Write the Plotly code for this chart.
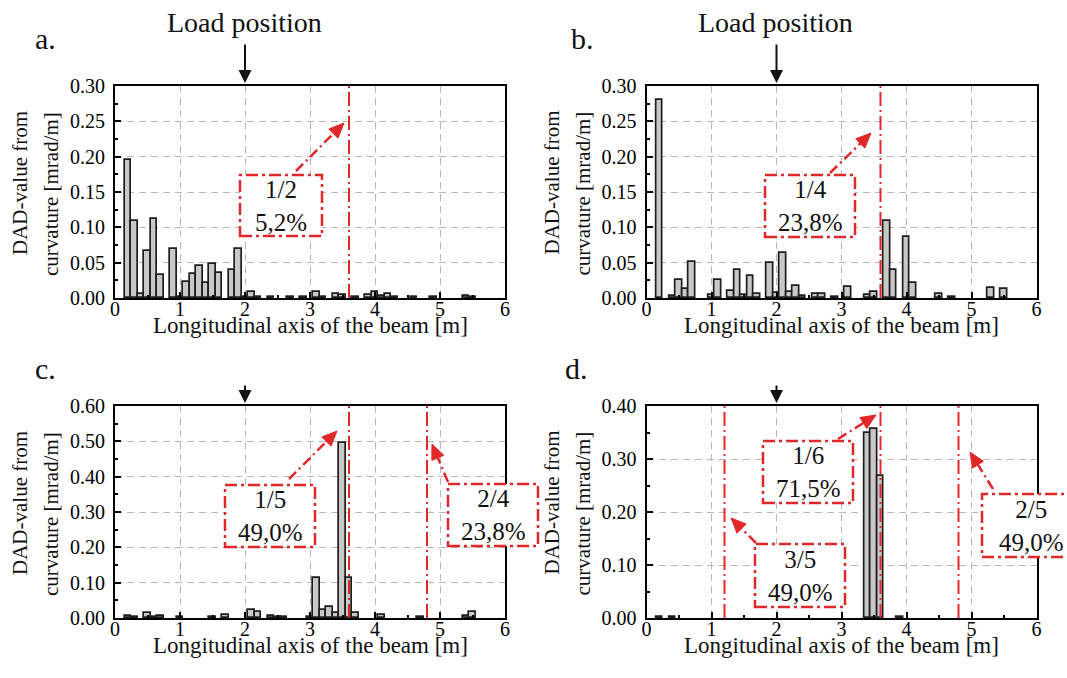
import math
import plotly.graph_objects as go

W, H = 1067, 678
FONT = "Liberation Serif"
RED = "#e0282a"

# ---------------- data ----------------
a_x = [0.2, 0.3, 0.4, 0.5, 0.6, 0.7, 0.9, 1.0, 1.1, 1.2, 1.3, 1.4, 1.5, 1.6, 1.8, 1.9, 2.0, 2.1, 2.2, 2.4,
       2.7, 2.9, 3.1, 3.2, 3.4, 3.5, 3.7, 3.9, 4.0, 4.1, 4.2, 4.3, 4.6, 4.9, 5.4, 5.5]
a_y = [0.195, 0.109, 0.005, 0.067, 0.112, 0.032, 0.069, 0.002, 0.023, 0.034, 0.045, 0.021, 0.048, 0.035, 0.039,
       0.069, 0.002, 0.009, 0.002, 0.001, 0.001, 0.001, 0.008, 0.002, 0.006, 0.004, 0.001, 0.004, 0.009, 0.003,
       0.005, 0.002, 0.001, 0.001, 0.003, 0.001]

b_x = [0.2, 0.4, 0.5, 0.6, 0.7, 1.0, 1.1, 1.3, 1.4, 1.5, 1.6, 1.7, 1.9, 2.0, 2.1, 2.2, 2.3, 2.4, 2.6, 2.7,
       2.9, 3.1, 3.4, 3.5, 3.7, 3.8, 4.0, 4.1, 4.5, 4.7, 5.3, 5.5]
b_y = [0.280, 0.003, 0.025, 0.013, 0.051, 0.004, 0.025, 0.010, 0.039, 0.004, 0.031, 0.006, 0.049, 0.007, 0.063,
       0.008, 0.017, 0.003, 0.005, 0.005, 0.002, 0.016, 0.004, 0.008, 0.109, 0.040, 0.086, 0.021, 0.005, 0.002,
       0.014, 0.013]

c_x = [0.2, 0.3, 0.5, 0.6, 0.7, 1.0, 1.5, 1.7, 2.1, 2.2, 2.4, 2.5, 2.6, 3.0, 3.1, 3.2, 3.3, 3.4, 3.5, 3.6,
       3.7, 4.1, 4.7, 5.4, 5.5]
c_y = [0.007, 0.004, 0.015, 0.004, 0.005, 0.002, 0.002, 0.009, 0.022, 0.017, 0.005, 0.003, 0.003, 0.002, 0.112,
       0.024, 0.031, 0.013, 0.495, 0.113, 0.014, 0.009, 0.002, 0.006, 0.016]

d_x = [0.2, 0.4, 3.4, 3.5, 3.6, 3.9]
d_y = [0.002, 0.002, 0.350, 0.357, 0.268, 0.001]

red_a = [3.6]
red_b = [3.6]
red_c = [3.6, 4.8]
red_d = [1.2, 3.6, 4.8]

load_x = 2.0

x_ticks = [0, 1, 2, 3, 4, 5, 6]
y_ticks_ab = [0.00, 0.05, 0.10, 0.15, 0.20, 0.25, 0.30]
y_ticks_c = [0.00, 0.10, 0.20, 0.30, 0.40, 0.50, 0.60]
y_ticks_d = [0.00, 0.10, 0.20, 0.30, 0.40]

panel_labels = ["a.", "b.", "c.", "d."]
box_texts = {
    "a": ["1/2<br>5,2%"],
    "b": ["1/4<br>23,8%"],
    "c": ["1/5<br>49,0%", "2/4<br>23,8%"],
    "d": ["1/6<br>71,5%", "3/5<br>49,0%", "2/5<br>49,0%"],
}
x_title = "Longitudinal axis of the beam [m]"
y_title_1 = "DAD-value from"
y_title_2 = "curvature [mrad/m]"

# ---------------- layout helpers (pixel -> paper) ----------------
def X(p):
    return p / W


def Y(p):
    return 1 - p / H


left_x = (115, 505)
right_x = (646.5, 1036.5)
top_y = (86, 298)
bot_y = (406, 618)

panels = {
    "a": dict(ax="", xr=left_x, yr=top_y, bx=a_x, by=a_y, red=red_a, yt=y_ticks_ab, ymax=0.30, minor=0.025),
    "b": dict(ax="2", xr=right_x, yr=top_y, bx=b_x, by=b_y, red=red_b, yt=y_ticks_ab, ymax=0.30, minor=0.025),
    "c": dict(ax="3", xr=left_x, yr=bot_y, bx=c_x, by=c_y, red=red_c, yt=y_ticks_c, ymax=0.60, minor=0.05),
    "d": dict(ax="4", xr=right_x, yr=bot_y, bx=d_x, by=d_y, red=red_d, yt=y_ticks_d, ymax=0.40, minor=0.05),
}

# boxes: (x0, y0, x1, y1) px, arrow start px, arrow tip px
box_geom = {
    "a": [((240, 175, 322, 236), (296, 171), (344, 123))],
    "b": [((765, 175, 855, 237), (830, 173), (871, 133))],
    "c": [((225, 485, 315, 547), (289, 479), (337, 431)),
          ((448, 484, 538, 546), (448, 482), (432, 444))],
    "d": [((763, 441, 853, 503), (838, 439), (876, 415)),
          ((755, 544, 845, 607), (756, 543), (731, 518)),
          ((982, 494, 1080, 557), (993, 489), (970, 452))],
}

fig = go.Figure()
shapes = []
annotations = []
layout = {}

tickfont = dict(family=FONT, size=20, color="black")

for key, p in panels.items():
    xa = "x" + p["ax"]
    ya = "y" + p["ax"]
    fig.add_trace(go.Bar(
        x=p["bx"], y=p["by"], width=0.1, xaxis=xa, yaxis=ya,
        marker=dict(color="#c8c8c8", line=dict(color="#1e1e1e", width=1.7)),
        showlegend=False, hoverinfo="skip",
    ))
    common = dict(
        showline=True, linecolor="black", linewidth=2, mirror=True,
        ticks="inside", ticklen=6, tickwidth=1.5, tickcolor="black",
        showgrid=True, gridcolor="#b8b8b8", griddash="7px,5px", gridwidth=1,
        zeroline=False, tickfont=tickfont, automargin=False,
    )
    layout["xaxis" + p["ax"]] = dict(
        common, domain=[X(p["xr"][0]), X(p["xr"][1])], anchor=ya, range=[0, 6],
        tickvals=x_ticks, ticktext=[str(v) for v in x_ticks],
        minor=dict(ticks="inside", ticklen=3, dtick=0.5, tickcolor="black", showgrid=False),
        ticklabelstandoff=-8,
    )
    layout["yaxis" + p["ax"]] = dict(
        common, domain=[Y(p["yr"][1]), Y(p["yr"][0])], anchor=xa, range=[0, p["ymax"]],
        tickvals=p["yt"], ticktext=["%.2f" % v for v in p["yt"]],
        minor=dict(ticks="inside", ticklen=3, dtick=p["minor"], tickcolor="black", showgrid=False),
        ticklabelstandoff=4,
    )
    # red dash-dot vertical lines
    for rx in p["red"]:
        shapes.append(dict(type="line", xref=xa, yref=ya + " domain", x0=rx, x1=rx, y0=0, y1=1,
                           line=dict(color=RED, width=2, dash="14px,4px,2px,4px"), layer="above"))
    # boxes with arrows
    for (rect, start, tip), txt in zip(box_geom[key], box_texts[key]):
        x0, y0, x1, y1 = rect
        shapes.append(dict(type="rect", xref="paper", yref="paper", x0=X(x0), x1=X(x1), y0=Y(y1), y1=Y(y0),
                           fillcolor="white", line=dict(color=RED, width=2.5, dash="12px,4px,3px,4px"),
                           layer="above"))
        annotations.append(dict(xref="paper", yref="paper", x=X((x0 + x1) / 2), y=Y((y0 + y1) / 2),
                                text=txt, showarrow=False, font=dict(family=FONT, size=25, color="#111"),
                                xanchor="center", yanchor="middle"))
        dx, dy = tip[0] - start[0], tip[1] - start[1]
        L = math.hypot(dx, dy)
        ux, uy = dx / L, dy / L
        hl, hw = 15, 6.5
        bx, by = tip[0] - hl * ux, tip[1] - hl * uy
        nx, ny = -uy, ux
        shapes.append(dict(type="line", xref="paper", yref="paper", x0=X(start[0]), y0=Y(start[1]),
                           x1=X(bx), y1=Y(by), line=dict(color=RED, width=2.5, dash="10px,4px,2px,4px"),
                           layer="above"))
        path = "M {},{} L {},{} L {},{} Z".format(
            X(tip[0]), Y(tip[1]), X(bx + hw * nx), Y(by + hw * ny), X(bx - hw * nx), Y(by - hw * ny))
        shapes.append(dict(type="path", xref="paper", yref="paper", path=path, fillcolor=RED,
                           line=dict(color=RED, width=1), layer="above"))
    # load position arrows
    top_px = p["yr"][0]
    tail = 40 if key in ("a", "b") else 19
    annotations.append(dict(xref=xa, yref="paper", x=load_x, y=Y(top_px - 3), ax=0, ay=-tail,
                            text="", showarrow=True, arrowhead=2, arrowsize=1.3, arrowwidth=2,
                            arrowcolor="#111"))
    # axis titles
    xc = (p["xr"][0] + p["xr"][1]) / 2
    annotations.append(dict(xref="paper", yref="paper", x=X(xc), y=Y(p["yr"][1] + 27), text=x_title,
                            showarrow=False, font=dict(family=FONT, size=23, color="#111"),
                            xanchor="center", yanchor="middle"))
    yc = (p["yr"][0] + p["yr"][1]) / 2
    off = p["xr"][0] - 115
    annotations.append(dict(xref="paper", yref="paper", x=X(20 + off), y=Y(yc - 9), text=y_title_1,
                            showarrow=False, textangle=-90, font=dict(family=FONT, size=21, color="#111"),
                            xanchor="center", yanchor="middle"))
    annotations.append(dict(xref="paper", yref="paper", x=X(51 + off), y=Y(yc + 2), text=y_title_2,
                            showarrow=False, textangle=-90, font=dict(family=FONT, size=21, color="#111"),
                            xanchor="center", yanchor="middle"))

# Load position texts
for cx in (245, 775):
    annotations.append(dict(xref="paper", yref="paper", x=X(cx), y=Y(22), text="Load position",
                            showarrow=False, font=dict(family=FONT, size=28, color="#111"),
                            xanchor="center", yanchor="middle"))

# panel letters
for lbl, (lx, ly) in zip(panel_labels, [(45, 39), (582, 39), (45, 369), (576, 369)]):
    annotations.append(dict(xref="paper", yref="paper", x=X(lx), y=Y(ly), text=lbl, showarrow=False,
                            font=dict(family=FONT, size=30, color="#111"), xanchor="center", yanchor="middle"))

fig.update_layout(
    width=W, height=H, margin=dict(l=0, r=0, t=0, b=0, pad=0, autoexpand=False),
    paper_bgcolor="white", plot_bgcolor="white",
    shapes=shapes, annotations=annotations, bargap=0, showlegend=False,
    font=dict(family=FONT, color="#111"),
    **layout,
)

fig.write_html("out.html")
